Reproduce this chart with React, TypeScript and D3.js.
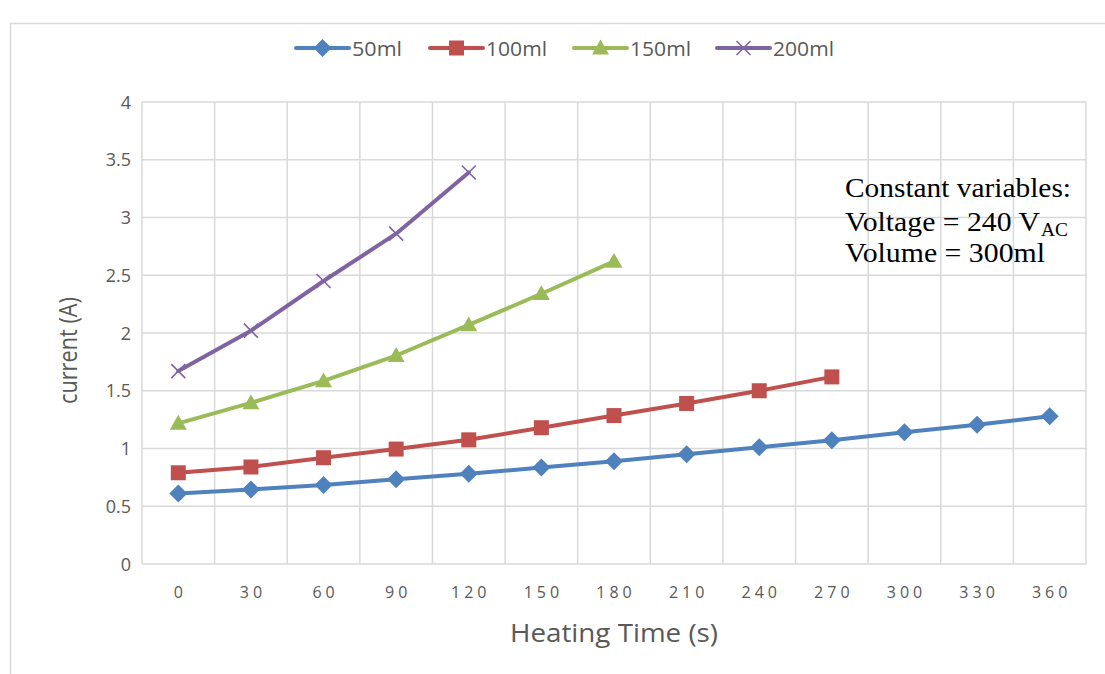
import React from "react";
import * as d3 from "d3";

const categories = ["0","30","60","90","120","150","180","210","240","270","300","330","360"];
const s50 = [0.61,0.645,0.684,0.733,0.781,0.835,0.89,0.95,1.01,1.072,1.14,1.205,1.28];
const s100 = [0.79,0.84,0.92,0.995,1.075,1.18,1.285,1.39,1.5,1.62];
const s150 = [1.218,1.395,1.585,1.805,2.07,2.34,2.62];
const s200 = [1.67,2.02,2.45,2.86,3.39];
const yTicks = [0,0.5,1,1.5,2,2.5,3,3.5,4];
const seriesNames = ["50ml","100ml","150ml","200ml"];
const colors = ["#4F81BD","#C0504D","#9BBB59","#8064A2"];
const markers = ["diamond","square","triangle","x"];

const W = 1105, H = 674;
const m = { left: 142, right: 1086, top: 102, bottom: 564 };
const SANS = "'Open Sans', sans-serif";

function Marker({ type, x, y, color }: { type: string; x: number; y: number; color: string }) {
  if (type === "diamond") {
    const r = 9;
    return <path d={`M${x},${y - r}L${x + r},${y}L${x},${y + r}L${x - r},${y}Z`} fill={color} />;
  }
  if (type === "square") {
    const r = 7.5;
    return <rect x={x - r} y={y - r} width={2 * r} height={2 * r} fill={color} />;
  }
  if (type === "triangle") {
    const r = 8.5;
    return <path d={`M${x},${y - r}L${x + r},${y + r * 0.75}L${x - r},${y + r * 0.75}Z`} fill={color} />;
  }
  const r = 7;
  return <path d={`M${x - r},${y - r}L${x + r},${y + r}M${x + r},${y - r}L${x - r},${y + r}`} stroke={color} strokeWidth={1.6} fill="none" />;
}

export default function App() {
  const x = d3.scaleBand<string>().domain(categories).range([m.left, m.right]).paddingInner(0).paddingOuter(0);
  const y = d3.scaleLinear().domain([0, 4]).range([m.bottom, m.top]);
  const cx = (c: string) => (x(c) as number) + x.bandwidth() / 2;
  const data = [s50, s100, s150, s200];
  const line = d3.line<number>().x((_, i) => cx(categories[i])).y(v => y(v));
  const bounds = categories.map(c => x(c) as number).concat([m.right]);

  const legendX = [296, 430, 574, 717];

  return (
    <svg width={W} height={H} style={{ position: "absolute", left: 0, top: 0 }}>
      <rect x={0} y={0} width={W} height={H} fill="#fff" />
      <rect x={10.5} y={23.5} width={W + 20} height={H + 20} fill="#fff" stroke="#d9d9d9" strokeWidth={1.5} />
      {/* grid */}
      {yTicks.map(t => (
        <line key={"h" + t} x1={m.left} x2={m.right} y1={y(t)} y2={y(t)} stroke="#d9d9d9" strokeWidth={1.5} />
      ))}
      {bounds.map((b, i) => (
        <line key={"v" + i} x1={b} x2={b} y1={m.top} y2={m.bottom} stroke="#d9d9d9" strokeWidth={1.5} />
      ))}
      {/* y labels */}
      {yTicks.map(t => (
        <text key={"yl" + t} x={131} y={y(t) + 6.5} textAnchor="end" fontFamily={SANS} fontSize={18} fill="#595959">{String(t)}</text>
      ))}
      {/* x labels */}
      {categories.map(c => (
        <text key={"xl" + c} x={cx(c) + 2} y={598} textAnchor="middle" fontFamily={SANS} fontSize={16} letterSpacing={4} fill="#595959">{c}</text>
      ))}
      {/* axis titles */}
      <text x={510} y={642} textLength={208} lengthAdjust="spacingAndGlyphs" fontFamily={SANS} fontSize={25} fill="#595959">Heating Time (s)</text>
      <text transform={`translate(77,404) rotate(-90)`} textLength={107} lengthAdjust="spacingAndGlyphs" fontFamily={SANS} fontSize={26} fill="#595959">current (A)</text>
      {/* series */}
      {data.map((s, si) => (
        <g key={"s" + si}>
          <path d={line(s) || ""} fill="none" stroke={colors[si]} strokeWidth={4} strokeLinejoin="round" strokeLinecap="round" />
          {s.map((v, i) => (
            <Marker key={i} type={markers[si]} x={cx(categories[i])} y={y(v)} color={colors[si]} />
          ))}
        </g>
      ))}
      {/* legend */}
      {seriesNames.map((n, i) => (
        <g key={"lg" + i}>
          <line x1={legendX[i]} x2={legendX[i] + 53} y1={48} y2={48} stroke={colors[i]} strokeWidth={4} strokeLinecap="round" />
          <Marker type={markers[i]} x={legendX[i] + 26.5} y={48} color={colors[i]} />
          <text x={legendX[i] + 56} y={55.5} textLength={n.length === 4 ? 50 : 61} lengthAdjust="spacingAndGlyphs" fontFamily={SANS} fontSize={20} fill="#595959">{n}</text>
        </g>
      ))}
      {/* annotation */}
      <g fontFamily="'Liberation Serif', 'Times New Roman', serif" fontSize={27} fill="#000">
        <text x={845} y={197} textLength={226} lengthAdjust="spacingAndGlyphs">Constant variables:</text>
        <text x={845} y={231} textLength={195} lengthAdjust="spacingAndGlyphs">Voltage = 240 V</text>
        <text x={1041} y={236} textLength={27} lengthAdjust="spacingAndGlyphs" fontSize={18}>AC</text>
        <text x={845} y={262} textLength={200} lengthAdjust="spacingAndGlyphs">Volume = 300ml</text>
      </g>
    </svg>
  );
}
